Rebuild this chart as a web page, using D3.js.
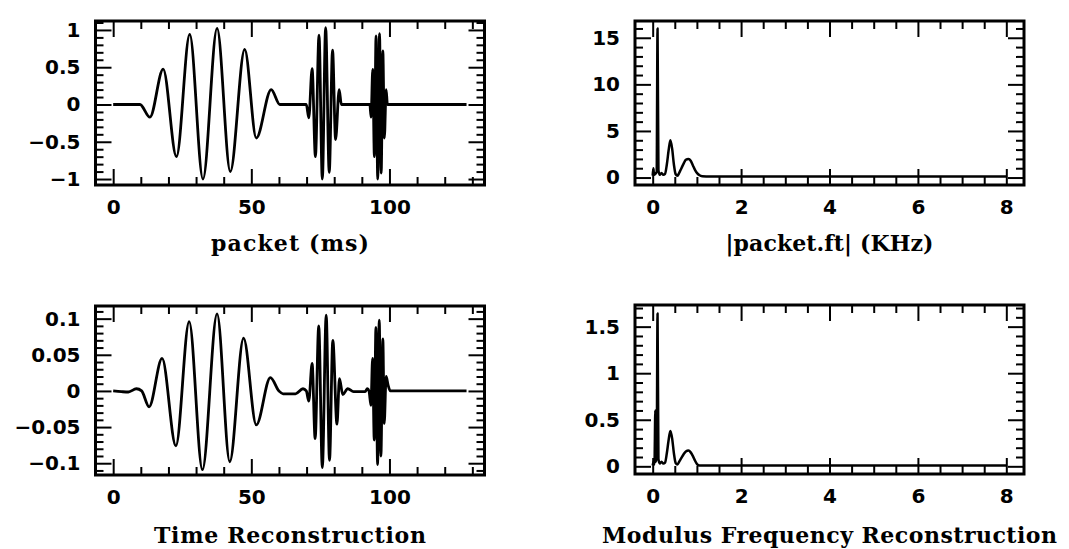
<!DOCTYPE html>
<html>
<head>
<meta charset="utf-8">
<script src="https://cdn.jsdelivr.net/npm/d3@7"></script>
<style>
  html, body { margin: 0; padding: 0; background: #fff; }
  svg { display: block; }
  .tick text { font-family: "DejaVu Sans", sans-serif; font-weight: bold; font-size: 20px; fill: #000; }
  .xlabel { font-family: "DejaVu Serif", serif; font-weight: bold; font-size: 22px; fill: #000; }
</style>
</head>
<body>
<svg id="chart" width="1069" height="549"></svg>
<script>
// ---------- DATA ----------
// Top-left: packet (ms) — extrema / anchor points of the signal
const packetTime = [0, 9.7, 13.3, 18.1, 22.9, 27.7, 32.5, 37.6, 42.4, 47.6, 51.8, 57.2, 60.3,
  69.9, 70.8, 72.0, 73.2, 74.5, 75.7, 76.9, 78.2, 79.4, 80.5, 81.8, 82.6,
  92.9, 93.35, 93.95, 94.55, 95.15, 95.75, 96.4, 97.0, 97.6, 98.15, 98.8, 99.25, 127.9];
const packetValue = [0, 0, -0.17, 0.475, -0.70, 0.94, -1.0, 1.02, -0.90, 0.74, -0.45, 0.20, 0,
  0, -0.18, 0.48, -0.70, 0.93, -1.0, 1.03, -0.91, 0.73, -0.47, 0.20, 0,
  0, -0.17, 0.47, -0.70, 0.92, -1.0, 0.95, -0.92, 0.72, -0.45, 0.20, 0, 0];

// Bottom-left: Time Reconstruction
const reconTime = [0, 3, 5.5, 8.4, 10.3, 13.0, 17.7, 22.7, 27.5, 32.3, 37.6, 42.2, 47.2, 51.8, 56.9,
  60.0, 61.5, 66.0, 68.7, 69.9, 70.8, 72.0, 73.1, 74.4, 75.7, 77.1, 78.3, 79.5, 81.0, 81.9,
  83.1, 84.9, 87.0, 91.2, 92.0, 92.6, 93.3, 93.9, 94.5, 95.1, 95.7, 96.3, 96.9, 97.6, 98.1, 98.8,
  99.5, 100.3, 127.9];
const reconValue = [0, -0.001, -0.0015, 0.003, 0, -0.022, 0.045, -0.076, 0.096, -0.109, 0.1065, -0.098, 0.073, -0.047, 0.0185,
  0, -0.004, -0.004, 0.003, 0, -0.014, 0.038, -0.066, 0.090, -0.106, 0.105, -0.096, 0.070, -0.046, 0.017,
  -0.005, 0.003, -0.001, -0.001, 0.003, 0, -0.02, 0.045, -0.068, 0.088, -0.102, 0.098, -0.09, 0.072, -0.045, 0.02,
  0.008, 0, 0];

// Top-right: |packet.ft| (KHz)
const ftFreq = [0, 0.015, 0.03, 0.06, 0.09, 0.11, 0.13, 0.16, 0.2, 0.24, 0.28, 0.32, 0.36, 0.40, 0.44, 0.48,
  0.52, 0.56, 0.60, 0.65, 0.70, 0.75, 0.81, 0.86, 0.91, 0.96, 1.01, 1.06, 1.12, 1.3, 8.0];
const ftValue = [0.2, 1.0, 0.3, 0.4, 0.6, 16.0, 0.8, 0.3, 0.5, 0.3, 0.4, 1.4, 2.9, 4.0, 3.1, 1.4,
  0.35, 0.2, 0.5, 1.0, 1.5, 1.9, 2.0, 1.8, 1.3, 0.8, 0.45, 0.25, 0.15, 0.1, 0.1];

// Bottom-right: Modulus Frequency Reconstruction
const recFreq = [0, 0.02, 0.04, 0.06, 0.07, 0.09, 0.11, 0.13, 0.16, 0.2, 0.24, 0.28, 0.32, 0.36, 0.40, 0.44,
  0.48, 0.52, 0.56, 0.60, 0.65, 0.70, 0.75, 0.81, 0.86, 0.91, 0.96, 1.01, 1.06, 8.0];
const recValue = [0.01, 0.05, 0.02, 0.6, 0.05, 0.1, 1.64, 0.08, 0.03, 0.05, 0.03, 0.04, 0.14, 0.28, 0.38, 0.3,
  0.14, 0.035, 0.02, 0.05, 0.09, 0.13, 0.16, 0.17, 0.15, 0.11, 0.06, 0.02, 0.01, 0.01];

// Tick definitions
const timeMajor = [0, 50, 100];
const timeMinor = [10, 20, 30, 40, 60, 70, 80, 90, 110, 120, 130];
const freqMajor = [0, 2, 4, 6, 8];
const freqMinor = [0.5, 1, 1.5, 2.5, 3, 3.5, 4.5, 5, 5.5, 6.5, 7, 7.5];
const packetYMajor = [-1, -0.5, 0, 0.5, 1];
const reconYMajor = [-0.1, -0.05, 0, 0.05, 0.1];
const ftYMajor = [0, 5, 10, 15];
const recFtYMajor = [0, 0.5, 1, 1.5];

// ---------- DRAWING ----------
const svg = d3.select("#chart");
const fmt = v => (v < 0 ? "\u2212" : "") + String(Math.abs(v));

function range(a, b, step) {
  const out = [];
  const n = Math.round((b - a) / step);
  for (let i = 0; i <= n; i++) out.push(+(a + i * step).toFixed(6));
  return out;
}

function panel(cfg, idx) {
  const w = 389, h = cfg.h;
  const g = svg.append("g").attr("transform", `translate(${cfg.x},${cfg.y})`);
  const x = d3.scaleLinear().domain(cfg.xDomain).range([0, w]);
  const y = d3.scaleLinear().domain(cfg.yDomain).range([h, 0]);

  const yMinor = range(cfg.yMinorStart, cfg.yMinorEnd, cfg.yMinorStep)
    .filter(v => !cfg.yMajor.some(m => Math.abs(m - v) < 1e-9));

  const clipId = "clip" + idx;
  g.append("clipPath").attr("id", clipId).append("rect").attr("width", w).attr("height", h);

  // data line
  const pts = cfg.xs.map((d, i) => [d, cfg.ys[i]]);
  g.append("path")
    .attr("clip-path", `url(#${clipId})`)
    .attr("d", d3.line().x(d => x(d[0])).y(d => y(d[1])).curve(d3.curveMonotoneX)(pts))
    .attr("fill", "none").attr("stroke", "#000").attr("stroke-width", cfg.sw)
    .attr("stroke-linejoin", "round");

  function styleAxis(sel) {
    sel.select(".domain").remove();
    sel.selectAll(".tick line").attr("stroke", "#000").attr("stroke-width", 2);
  }
  // bottom
  g.append("g").attr("transform", `translate(0,${h})`)
    .call(d3.axisBottom(x).tickValues(cfg.xMajor).tickSize(-16).tickPadding(15).tickFormat(fmt))
    .call(styleAxis);
  g.append("g").attr("transform", `translate(0,${h})`)
    .call(d3.axisBottom(x).tickValues(cfg.xMinor).tickSize(-8).tickFormat(""))
    .call(styleAxis);
  // top
  g.append("g")
    .call(d3.axisTop(x).tickValues(cfg.xMajor).tickSize(-16).tickFormat(""))
    .call(styleAxis);
  g.append("g")
    .call(d3.axisTop(x).tickValues(cfg.xMinor).tickSize(-8).tickFormat(""))
    .call(styleAxis);
  // left
  g.append("g")
    .call(d3.axisLeft(y).tickValues(cfg.yMajor).tickSize(-16).tickPadding(15).tickFormat(fmt))
    .call(styleAxis);
  g.append("g")
    .call(d3.axisLeft(y).tickValues(yMinor).tickSize(-8).tickFormat(""))
    .call(styleAxis);
  // right
  g.append("g").attr("transform", `translate(${w},0)`)
    .call(d3.axisRight(y).tickValues(cfg.yMajor).tickSize(-16).tickFormat(""))
    .call(styleAxis);
  g.append("g").attr("transform", `translate(${w},0)`)
    .call(d3.axisRight(y).tickValues(yMinor).tickSize(-8).tickFormat(""))
    .call(styleAxis);

  g.selectAll(".tick text").attr("font-family", null).attr("font-size", null);

  // frame
  g.append("rect").attr("width", w).attr("height", h)
    .attr("fill", "none").attr("stroke", "#000").attr("stroke-width", 3);

  // x label
  g.append("text").attr("class", "xlabel")
    .attr("x", w / 2).attr("y", cfg.labelY)
    .attr("text-anchor", "middle")
    .attr("textLength", cfg.labelW).attr("lengthAdjust", "spacing")
    .text(cfg.label);
}

const panels = [
  { x: 95.5, y: 21, h: 164, xDomain: [-6.4, 134.4], yDomain: [-1.08, 1.12],
    xMajor: timeMajor, xMinor: timeMinor, yMajor: packetYMajor,
    yMinorStart: -1.0, yMinorEnd: 1.1, yMinorStep: 0.1,
    xs: packetTime, ys: packetValue, sw: 2.8, label: "packet (ms)", labelY: 230, labelW: 158 },
  { x: 635, y: 21, h: 164, xDomain: [-0.4, 8.4], yDomain: [-0.8, 16.8],
    xMajor: freqMajor, xMinor: freqMinor, yMajor: ftYMajor,
    yMinorStart: 0, yMinorEnd: 16, yMinorStep: 1,
    xs: ftFreq, ys: ftValue, sw: 2.5, label: "|packet.ft| (KHz)", labelY: 230, labelW: 208 },
  { x: 95.5, y: 306, h: 169, xDomain: [-6.4, 134.4], yDomain: [-0.1163, 0.1175],
    xMajor: timeMajor, xMinor: timeMinor, yMajor: reconYMajor,
    yMinorStart: -0.11, yMinorEnd: 0.11, yMinorStep: 0.01,
    xs: reconTime, ys: reconValue, sw: 2.8, label: "Time Reconstruction", labelY: 237, labelW: 272 },
  { x: 635, y: 305, h: 169, xDomain: [-0.4, 8.4], yDomain: [-0.0825, 1.7325],
    xMajor: freqMajor, xMinor: freqMinor, yMajor: recFtYMajor,
    yMinorStart: 0, yMinorEnd: 1.7, yMinorStep: 0.1,
    xs: recFreq, ys: recValue, sw: 2.5, label: "Modulus Frequency Reconstruction", labelY: 238, labelW: 455 }
];
panels.forEach(panel);
</script>
</body>
</html>
